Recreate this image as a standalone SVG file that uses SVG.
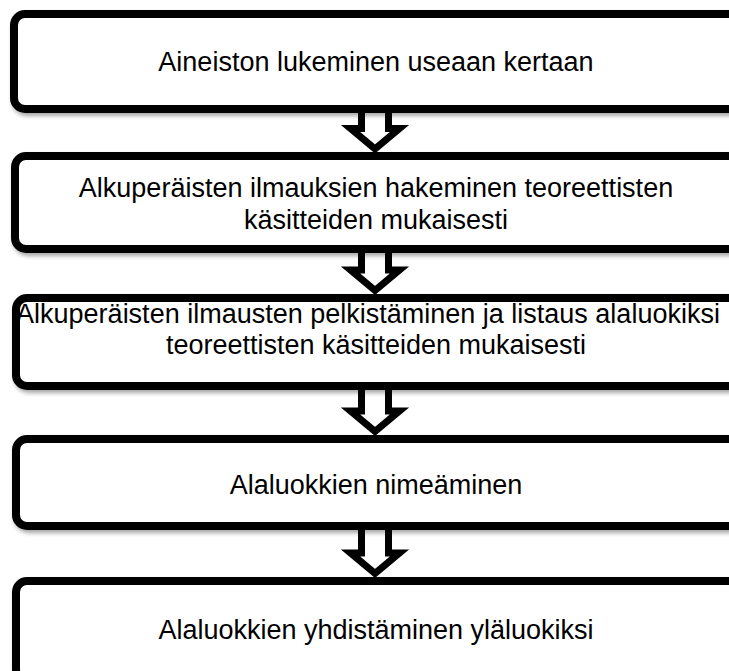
<svg xmlns="http://www.w3.org/2000/svg" width="729" height="671" viewBox="0 0 729 671">
  <defs>
    <filter id="shadow" x="-5%" y="-10%" width="115%" height="130%">
      <feDropShadow dx="2" dy="3" stdDeviation="2" flood-color="#000" flood-opacity="0.35"/>
    </filter>
    <style>
      .box { fill: #fff; stroke: #000; stroke-width: 8; filter: url(#shadow); }
      .arrow { fill: #fff; stroke: #000; stroke-width: 7; stroke-linejoin: miter; stroke-miterlimit: 10; }
      .label { font-family: "Liberation Sans", Arial, sans-serif; font-size: 27px; fill: #000; text-anchor: middle; }
    </style>
  </defs>
  <rect width="729" height="671" fill="#fff"/>

  <!-- down arrows between steps -->
  <g id="connectors">
    <polygon class="arrow" points="361.5,109 388.5,109 388.5,128.5 399.5,128.5 375,149 350.5,128.5 361.5,128.5"/>
    <polygon class="arrow" points="361.5,249 388.5,249 388.5,270 399.5,270 375,290.5 350.5,270 361.5,270"/>
    <polygon class="arrow" points="361.5,386 388.5,386 388.5,411 399.5,411 375,431.5 350.5,411 361.5,411"/>
    <polygon class="arrow" points="361.5,526 388.5,526 388.5,553 399.5,553 375,573.5 350.5,553 361.5,553"/>
  </g>

  <g id="step1">
    <rect class="box" x="14" y="14" width="740" height="95" rx="11"/>
    <text class="label" x="376" y="71">Aineiston lukeminen useaan kertaan</text>
  </g>

  <g id="step2">
    <rect class="box" x="15" y="156" width="740" height="93" rx="11"/>
    <text class="label" x="376" y="197">Alkuperäisten ilmauksien hakeminen teoreettisten</text>
    <text class="label" x="376" y="229">käsitteiden mukaisesti</text>
  </g>

  <g id="step3">
    <rect class="box" x="16" y="298" width="740" height="88" rx="11"/>
    <text class="label" x="368" y="323">Alkuperäisten ilmausten pelkistäminen ja listaus alaluokiksi</text>
    <text class="label" x="376" y="354">teoreettisten käsitteiden mukaisesti</text>
  </g>

  <g id="step4">
    <rect class="box" x="16" y="439" width="740" height="87" rx="11"/>
    <text class="label" x="376" y="494">Alaluokkien nimeäminen</text>
  </g>

  <g id="step5">
    <rect class="box" x="16" y="581" width="740" height="100" rx="11"/>
    <text class="label" x="376" y="639">Alaluokkien yhdistäminen yläluokiksi</text>
  </g>
</svg>
